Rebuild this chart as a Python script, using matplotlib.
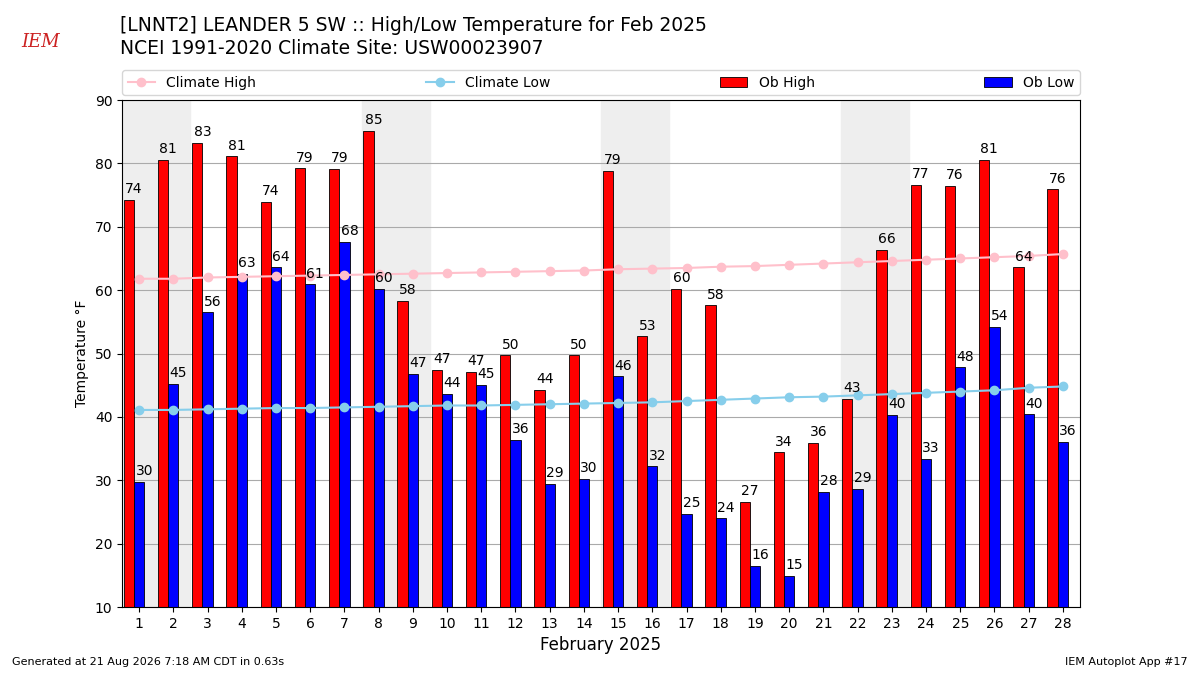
import matplotlib.pyplot as plt
import numpy as np

days = list(range(1, 29))
ob_high = [74.3, 80.6, 83.2, 81.1, 73.9, 79.2, 79.1, 85.1, 58.3, 47.4, 47.1, 49.7, 44.2, 49.7, 78.8,
           52.7, 60.2, 57.6, 26.6, 34.4, 35.9, 42.9, 66.3, 76.6, 76.4, 80.6, 63.6, 75.9]
ob_low = [29.8, 45.2, 56.5, 62.6, 63.6, 60.9, 67.6, 60.2, 46.8, 43.6, 45.1, 36.4, 29.4, 30.2, 46.4,
          32.2, 24.7, 24.0, 16.5, 14.9, 28.2, 28.6, 40.3, 33.4, 47.8, 54.2, 40.4, 36.1]
clim_high = [61.8, 61.8, 62.0, 62.1, 62.2, 62.3, 62.4, 62.5, 62.6, 62.7, 62.8, 62.9, 63.0, 63.1,
             63.3, 63.4, 63.5, 63.7, 63.8, 64.0, 64.2, 64.4, 64.6, 64.8, 65.0, 65.2, 65.4, 65.7]
clim_low = [41.1, 41.1, 41.2, 41.3, 41.4, 41.4, 41.5, 41.6, 41.7, 41.8, 41.8, 41.9, 42.0, 42.1,
            42.2, 42.3, 42.5, 42.7, 42.9, 43.1, 43.2, 43.4, 43.6, 43.8, 44.0, 44.2, 44.6, 44.8]
weekends = [1, 8, 15, 22]

fig = plt.figure(figsize=(12, 6.75), dpi=100)
ax = fig.add_axes([0.1017, 0.1007, 0.7983, 0.7511])
x = np.array(days)
for d in weekends:
    ax.axvspan(d - 0.5, d + 1.5, color="#eeeeee", zorder=0)
ax.grid(axis="y", color="#aaaaaa", zorder=1)
ax.set_axisbelow(True)
hb = ax.bar(x - 0.3, ob_high, width=0.3, color="red", edgecolor="black", linewidth=0.6, label="Ob High", zorder=2)
lb = ax.bar(x, ob_low, width=0.3, color="blue", edgecolor="black", linewidth=0.6, label="Ob Low", zorder=2)
for xi, v in zip(x, ob_high):
    ax.text(xi - 0.15, v + 0.6, f"{v:.0f}", ha="center", va="bottom", fontsize=10, zorder=4)
for xi, v in zip(x, ob_low):
    ax.text(xi + 0.15, v + 0.6, f"{v:.0f}", ha="center", va="bottom", fontsize=10, zorder=4)
ch, = ax.plot(x, clim_high, color="pink", marker="o", lw=1.5, label="Climate High", zorder=3)
cl, = ax.plot(x, clim_low, color="skyblue", marker="o", lw=1.5, label="Climate Low", zorder=3)
ax.set_xlim(0.5, 28.5)
ax.set_ylim(10, 90)
ax.set_xticks(days)
ax.set_ylabel("Temperature °F")
ax.set_xlabel("February 2025", fontsize=12)
fig.legend(handles=[ch, cl, hb, lb], loc="lower left", bbox_to_anchor=(0.1017, 0.859, 0.7983, 0.038),
           mode="expand", ncol=4, fontsize=10, borderaxespad=0)
fig.text(0.1, 0.962, "[LNNT2] LEANDER 5 SW :: High/Low Temperature for Feb 2025", fontsize=13.5, va="center")
fig.text(0.1, 0.928, "NCEI 1991-2020 Climate Site: USW00023907", fontsize=13.5, va="center")
fig.text(0.01, 0.015, "Generated at 21 Aug 2026 7:18 AM CDT in 0.63s", fontsize=8)
fig.text(0.99, 0.015, "IEM Autoplot App #17", fontsize=8, ha="right")
fig.text(0.018, 0.93, "IEM", color="#cc2222", fontsize=13, style="italic", family="serif")
fig.savefig("out.png")
